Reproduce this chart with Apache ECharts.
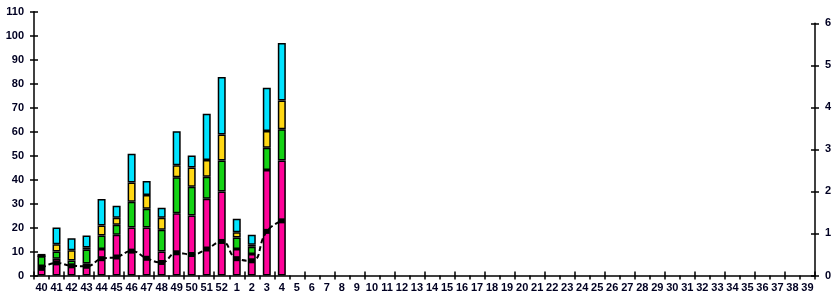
<!DOCTYPE html>
<html><head><meta charset="utf-8">
<script src="https://cdn.jsdelivr.net/npm/echarts@6/dist/echarts.min.js"></script>
<style>html,body{margin:0;padding:0;background:#fff}#c{width:839px;height:300px}</style>
</head><body><div id="c"></div>
<script>
var weeks = ['40','41','42','43','44','45','46','47','48','49','50','51','52','1','2','3','4','5','6','7','8','9','10','11','12','13','14','15','16','17','18','19','20','21','22','23','24','25','26','27','28','29','30','31','32','33','34','35','36','37','38','39'];
var magenta = [4,7,4,5,11,17,20,20,10,26,25,32,35,11,9,44,48];
var green = [4,3,2.3,5.8,5.7,4.2,10.8,7.8,9.1,15,12,9.2,13,4.8,3,9.3,13];
var yellow = [0,3,4.2,0.9,4.2,2.9,8,5.8,5,5,8,7,10.8,2.2,0.8,7,12];
var cyan = [1,7,5,5,11,5,12,5.8,4.2,14.2,5,19.2,24,5.7,4.2,18,24];
var rate = [0.17,0.30,0.23,0.22,0.40,0.44,0.58,0.41,0.31,0.54,0.50,0.63,0.81,0.40,0.35,1.05,1.30];
var leftTicks = {min:0, max:110, interval:10};
var rightTicks = {min:0, max:6, interval:1};

var txt = {color:'#000022', fontFamily:'Liberation Sans, Arial, sans-serif', fontWeight:'bold', fontSize:11};
var axLine = {show:true, lineStyle:{color:'#000', width:1.5}};
var chart = echarts.init(document.getElementById('c'));
function bar(name, data, color){
  return {name:name, type:'bar', stack:'a', data:data, barWidth:8, xAxisIndex:0, yAxisIndex:0,
    itemStyle:{color:color, borderColor:'#000', borderWidth:1.5}, animation:false};
}
chart.setOption({
  animation:false,
  grid:[{left:34, right:24, top:11.7, bottom:24.5},{left:34, right:24, top:23.3, bottom:24.5}],
  xAxis:[
    {type:'category', data:weeks, gridIndex:0, axisLine:axLine,
     axisTick:{show:true, length:4, lineStyle:{color:'#000', width:1.5}},
     axisLabel:Object.assign({interval:0, margin:7}, txt), splitLine:{show:false}},
    {type:'category', data:weeks, gridIndex:0, position:'bottom', axisLine:{show:false},
     axisTick:{show:true, inside:true, length:4, lineStyle:{color:'#000', width:1.5}},
     axisLabel:{show:false}, splitLine:{show:false}},
    {type:'category', data:weeks, gridIndex:1, show:false}
  ],
  yAxis:[
    {type:'value', gridIndex:0, min:leftTicks.min, max:leftTicks.max, interval:leftTicks.interval, axisLine:axLine,
     axisTick:{show:true, length:4, lineStyle:{color:'#000', width:1.5}},
     axisLabel:Object.assign({margin:10}, txt), splitLine:{show:false}},
    {type:'value', gridIndex:0, position:'left', min:leftTicks.min, max:leftTicks.max, interval:leftTicks.interval, axisLine:{show:false},
     axisTick:{show:true, inside:true, length:4, lineStyle:{color:'#000', width:1.5}},
     axisLabel:{show:false}, splitLine:{show:false}},
    {type:'value', gridIndex:1, position:'right', min:rightTicks.min, max:rightTicks.max, interval:rightTicks.interval, axisLine:axLine,
     axisTick:{show:true, length:4, lineStyle:{color:'#000', width:1.5}},
     axisLabel:Object.assign({margin:10}, txt), splitLine:{show:false}},
    {type:'value', gridIndex:1, position:'right', min:rightTicks.min, max:rightTicks.max, interval:rightTicks.interval, axisLine:{show:false},
     axisTick:{show:true, inside:true, length:4, lineStyle:{color:'#000', width:1.5}},
     axisLabel:{show:false}, splitLine:{show:false}}
  ],
  series:[
    bar('magenta', magenta, '#FF0399'),
    bar('green', green, '#14D314'),
    bar('yellow', yellow, '#FFD814'),
    bar('cyan', cyan, '#00E4FF'),
    {name:'rate', type:'line', data:rate, xAxisIndex:2, yAxisIndex:2, smooth:true, z:10,
     symbol:'rect', symbolSize:[6,5], itemStyle:{color:'#000'},
     lineStyle:{color:'#000', width:2, type:[5,3]}}
  ]
});
</script></body></html>
